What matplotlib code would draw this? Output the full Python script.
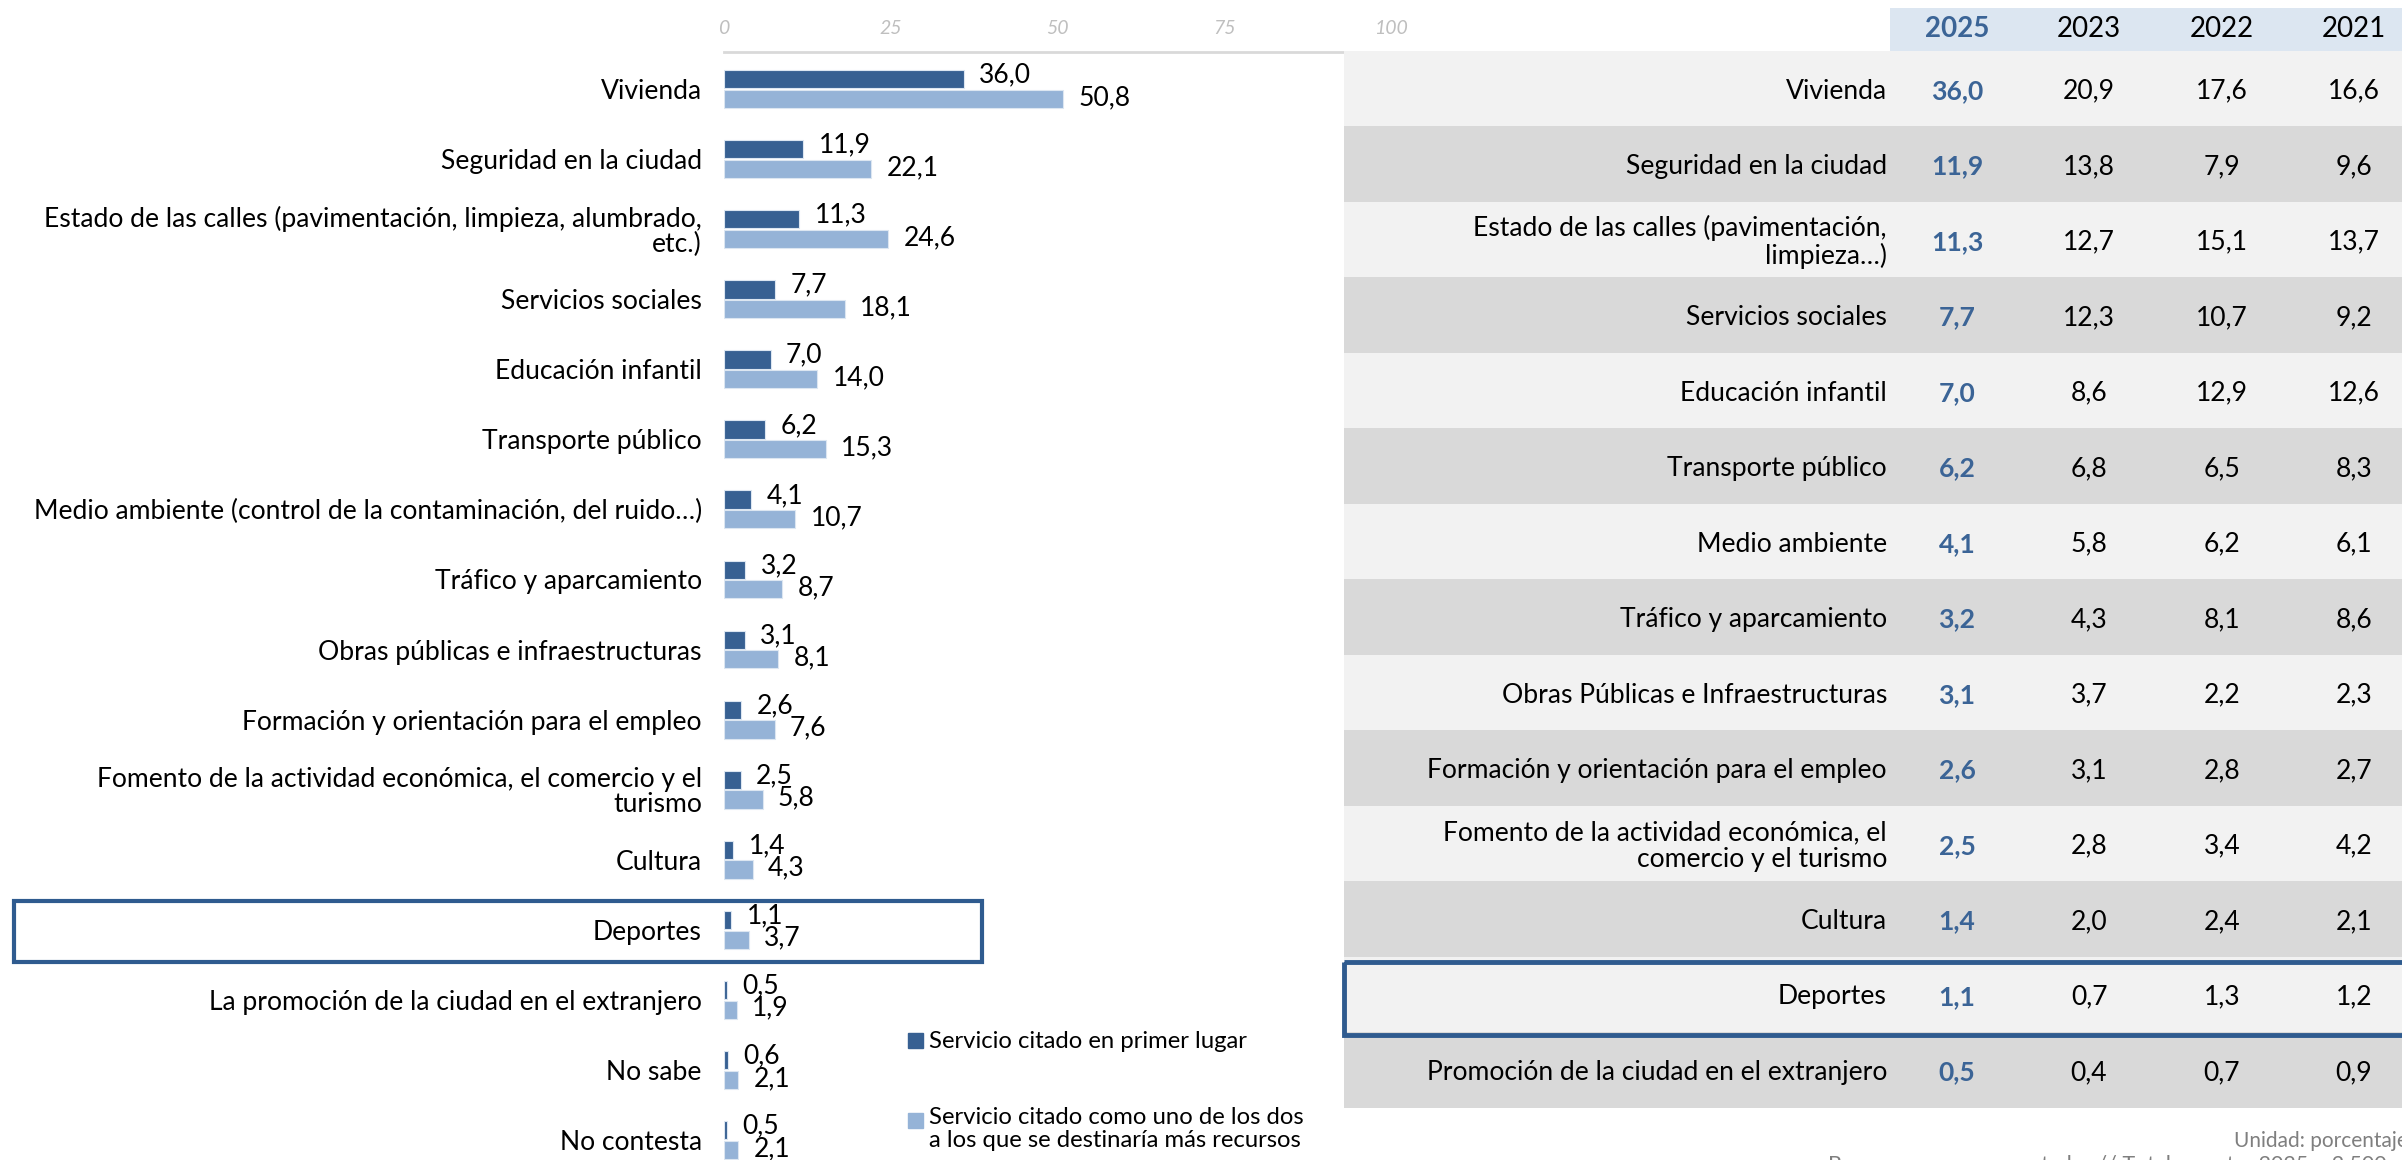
import matplotlib.pyplot as plt
from matplotlib.patches import Rectangle
from matplotlib.transforms import blended_transform_factory

plt.rcParams['font.family'] = ['Lato', 'DejaVu Sans']

# Left chart data
categories = [
    "Vivienda",
    "Seguridad en la ciudad",
    "Estado de las calles (pavimentación, limpieza, alumbrado,\netc.)",
    "Servicios sociales",
    "Educación infantil",
    "Transporte público",
    "Medio ambiente (control de la contaminación, del ruido…)",
    "Tráfico y aparcamiento",
    "Obras públicas e infraestructuras",
    "Formación y orientación para el empleo",
    "Fomento de la actividad económica, el comercio y el\nturismo",
    "Cultura",
    "Deportes",
    "La promoción de la ciudad en el extranjero",
    "No sabe",
    "No contesta",
]
first_place = [36.0, 11.9, 11.3, 7.7, 7.0, 6.2, 4.1, 3.2, 3.1, 2.6, 2.5, 1.4, 1.1, 0.5, 0.6, 0.5]
top_two = [50.8, 22.1, 24.6, 18.1, 14.0, 15.3, 10.7, 8.7, 8.1, 7.6, 5.8, 4.3, 3.7, 1.9, 2.1, 2.1]
x_ticks = [0, 25, 50, 75, 100]
legend_labels = ["Servicio citado en primer lugar",
                 "Servicio citado como uno de los dos\na los que se destinaría más recursos"]

# Right table data
table_rows = [
    "Vivienda",
    "Seguridad en la ciudad",
    "Estado de las calles (pavimentación,\nlimpieza…)",
    "Servicios sociales",
    "Educación infantil",
    "Transporte público",
    "Medio ambiente",
    "Tráfico y aparcamiento",
    "Obras Públicas e Infraestructuras",
    "Formación y orientación para el empleo",
    "Fomento de la actividad económica, el\ncomercio y el turismo",
    "Cultura",
    "Deportes",
    "Promoción de la ciudad en el extranjero",
]
years = ["2025", "2023", "2022", "2021"]
v2025 = [36.0, 11.9, 11.3, 7.7, 7.0, 6.2, 4.1, 3.2, 3.1, 2.6, 2.5, 1.4, 1.1, 0.5]
v2023 = [20.9, 13.8, 12.7, 12.3, 8.6, 6.8, 5.8, 4.3, 3.7, 3.1, 2.8, 2.0, 0.7, 0.4]
v2022 = [17.6, 7.9, 15.1, 10.7, 12.9, 6.5, 6.2, 8.1, 2.2, 2.8, 3.4, 2.4, 1.3, 0.7]
v2021 = [16.6, 9.6, 13.7, 9.2, 12.6, 8.3, 6.1, 8.6, 2.3, 2.7, 4.2, 2.1, 1.2, 0.9]
highlight = "Deportes"

DARK = '#376092'
LIGHT = '#95b3d7'
BOX = '#2f5b8f'
BLUE_TXT = '#3b6496'
FS = 19.1
W, H = 2402, 1160


def fmt(v):
    return f"{v:.1f}".replace('.', ',')


def fx(px):
    return px / W


def fy(py):
    return 1 - py / H


fig = plt.figure(figsize=(W / 100, H / 100), dpi=100)

# ---- bar chart ----
ax = fig.add_axes([fx(724), 0, fx(1391) - fx(724), fy(52)])
ax.set_zorder(1)
pos = list(range(len(categories)))
ax.barh([p - 0.14 for p in pos], first_place, height=0.26, color=DARK,
        edgecolor='#dce6f1', linewidth=0.8)
ax.barh([p + 0.14 for p in pos], top_two, height=0.26, color=LIGHT,
        edgecolor='#dce6f1', linewidth=0.8)

for p, a, b in zip(pos, first_place, top_two):
    ax.annotate(fmt(a), (a, p - 0.2), xytext=(11, 0), textcoords='offset points',
                ha='left', va='center', fontsize=FS, color='black')
    ax.annotate(fmt(b), (b, p + 0.12), xytext=(11, 0), textcoords='offset points',
                ha='left', va='center', fontsize=FS, color='black')

ax.set_xlim(0, 100)
ax.set_ylim(15.285, -0.528)
ax.set_yticks(pos)
ax.set_yticklabels(categories, fontsize=FS, linespacing=1.0)
ax.xaxis.tick_top()
ax.set_xticks(x_ticks)
ax.set_xticklabels([str(t) for t in x_ticks], fontsize=14, style='italic', color='#bfbfbf')
ax.tick_params(axis='both', length=0)
ax.tick_params(axis='y', pad=16)
ax.tick_params(axis='x', pad=11)
for side in ['left', 'right', 'bottom']:
    ax.spines[side].set_visible(False)
ax.spines['top'].set_color('#d9d9d9')
ax.spines['top'].set_linewidth(2)

# highlight box around Deportes
hi = categories.index(highlight)
bt = blended_transform_factory(ax.transAxes, ax.transData)
ax.add_patch(Rectangle((-1.064, hi - 0.41), 1.451, 0.87, transform=bt, fill=False,
                       edgecolor=BOX, linewidth=3, clip_on=False))

# legend drawn by hand
for col, yy in zip([DARK, LIGHT], [1041, 1121]):
    fig.patches.append(Rectangle((fx(908), fy(yy + 7)), 15 / W, 15 / H,
                                 transform=fig.transFigure, color=col))
fig.text(fx(929), fy(1041), legend_labels[0], ha='left', va='center', fontsize=17.2)
fig.text(fx(929), fy(1107), legend_labels[1], ha='left', va='top', fontsize=17.2,
         linespacing=1.12)

# ---- table ----
tab = fig.add_axes([fx(1344), 0, 1 - fx(1344), 1])
tab.set_zorder(2)
tab.set_xlim(1344, W)
tab.set_ylim(14.689, -0.6755)
tab.axis('off')

col_x = [1957, 2089, 2222, 2354]
tab.add_patch(Rectangle((1890, -0.5695), W - 1890 + 5, 0.5695, color='#dce6f1', lw=0))
for j, (yr, cx) in enumerate(zip(years, col_x)):
    tab.text(cx, -0.285, yr, ha='center', va='center', fontsize=20,
             fontweight='bold' if j == 0 else 'normal',
             color=BLUE_TXT if j == 0 else 'black')

for i, name in enumerate(table_rows):
    tab.add_patch(Rectangle((1344, i), W - 1344 + 5, 1,
                            color='#f2f2f2' if i % 2 == 0 else '#d9d9d9', lw=0))
    tab.text(1887, i + 0.53, name, ha='right', va='center', fontsize=FS,
             linespacing=1.05)
    for j, (vals, cx) in enumerate(zip([v2025, v2023, v2022, v2021], col_x)):
        tab.text(cx, i + 0.53, fmt(vals[i]), ha='center', va='center', fontsize=FS,
                 fontweight='bold' if j == 0 else 'normal',
                 color=BLUE_TXT if j == 0 else 'black')

ti = table_rows.index(highlight)
tab.add_patch(Rectangle((1344, ti + 0.06), W, 0.97, fill=False, edgecolor=BOX,
                        linewidth=3.5, clip_on=False))

# footnotes
fig.text(fx(2234), fy(1141), "Unidad: porcentaje", ha='left', va='center',
         fontsize=15, color='#7f7f7f')
fig.text(fx(1828), fy(1165), "Base: personas encuestadas // Total muestra 2025 = 2.500",
         ha='left', va='center', fontsize=15.5, color='#7f7f7f')

fig.savefig('out.png', dpi=100)
